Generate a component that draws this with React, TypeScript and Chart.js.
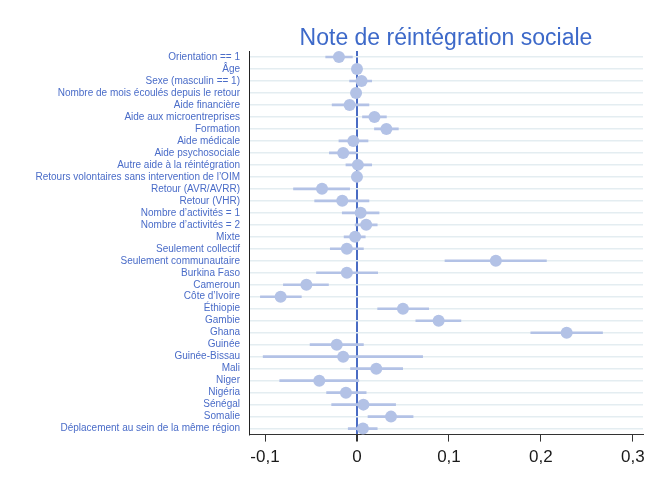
import React, { useEffect, useRef } from "react";
import { Chart, registerables } from "chart.js";

Chart.register(...registerables);

const categories: string[] = [
  "Orientation == 1",
  "Âge",
  "Sexe (masculin == 1)",
  "Nombre de mois écoulés depuis le retour",
  "Aide financière",
  "Aide aux microentreprises",
  "Formation",
  "Aide médicale",
  "Aide psychosociale",
  "Autre aide à la réintégration",
  "Retours volontaires sans intervention de l’OIM",
  "Retour (AVR/AVRR)",
  "Retour (VHR)",
  "Nombre d’activités = 1",
  "Nombre d’activités = 2",
  "Mixte",
  "Seulement collectif",
  "Seulement communautaire",
  "Burkina Faso",
  "Cameroun",
  "Côte d’Ivoire",
  "Éthiopie",
  "Gambie",
  "Ghana",
  "Guinée",
  "Guinée-Bissau",
  "Mali",
  "Niger",
  "Nigéria",
  "Sénégal",
  "Somalie",
  "Déplacement au sein de la même région",
];

const estimates: number[] = [
  -0.0196, 0.0, 0.005, -0.001, -0.008, 0.019, 0.032, -0.004, -0.015, 0.001,
  0.0, -0.038, -0.016, 0.004, 0.01, -0.002, -0.011, 0.151, -0.011, -0.055,
  -0.083, 0.05, 0.0888, 0.228, -0.022, -0.015, 0.021, -0.041, -0.012, 0.007,
  0.037, 0.0065,
];

const lowerCI: number[] = [
  -0.034, -0.001, -0.008, -0.002, -0.027, 0.006, 0.019, -0.0196, -0.03, -0.012,
  -0.001, -0.069, -0.046, -0.016, -0.002, -0.014, -0.029, 0.0957, -0.044, -0.08,
  -0.105, 0.0225, 0.064, 0.189, -0.051, -0.102, -0.007, -0.084, -0.033, -0.0275,
  0.012, -0.0095,
];

const upperCI: number[] = [
  -0.005, 0.001, 0.016, 0.0, 0.013, 0.032, 0.045, 0.012, 0.0, 0.016,
  0.001, -0.008, 0.013, 0.024, 0.022, 0.009, 0.007, 0.206, 0.0225, -0.031,
  -0.0605, 0.078, 0.113, 0.267, 0.007, 0.0714, 0.0497, 0.002, 0.01, 0.042,
  0.061, 0.022,
];

const xTicks: number[] = [-0.1, 0, 0.1, 0.2, 0.3];
const chartTitle = "Note de réintégration sociale";

const markColor = "#b3c2e6";
const labelColor = "#4a6cc8";

export default function App() {
  const canvasRef = useRef<HTMLCanvasElement | null>(null);

  useEffect(() => {
    document.body.style.margin = "0";
    const canvas = canvasRef.current;
    if (!canvas) return;

    const titlePlugin = {
      id: "centeredTitle",
      afterDraw(chart: any) {
        const { ctx, chartArea } = chart;
        ctx.save();
        ctx.font = "23px 'Liberation Sans', Arial, sans-serif";
        ctx.fillStyle = "#3d69c9";
        ctx.textAlign = "center";
        ctx.textBaseline = "alphabetic";
        ctx.fillText(chartTitle, (chartArea.left + chartArea.right) / 2, 45);
        ctx.restore();
      },
    };

    const chart = new Chart(canvas, {
      type: "bar",
      data: {
        labels: categories,
        datasets: [
          {
            type: "bar",
            label: "IC",
            data: categories.map((_, i) => [lowerCI[i], upperCI[i]]) as any,
            backgroundColor: markColor,
            borderWidth: 0,
            barThickness: 2,
            order: 2,
          } as any,
          {
            type: "line",
            label: "Estimation",
            data: estimates as any,
            showLine: false,
            pointRadius: 6,
            pointHoverRadius: 6,
            pointBackgroundColor: markColor,
            pointBorderColor: markColor,
            pointBorderWidth: 0,
            order: 1,
          } as any,
        ],
      },
      options: {
        indexAxis: "y",
        animation: false,
        responsive: false,
        maintainAspectRatio: false,
        layout: { padding: { top: 51, right: 11, left: 0, bottom: 6 } },
        plugins: {
          legend: { display: false },
          tooltip: { enabled: false },
          title: { display: false },
        },
        scales: {
          x: {
            type: "linear",
            min: -0.1174,
            max: 0.311,
            afterBuildTicks(scale: any) {
              scale.ticks = xTicks.map((v) => ({ value: v }));
            },
            ticks: {
              font: { size: 17, family: "'Liberation Sans', Arial, sans-serif" },
              color: "#1a1a1a",
              padding: 6,
              callback: (v: any) => {
                const n = Number(v);
                if (Math.abs(n) < 1e-9) return "0";
                return n.toFixed(1).replace(".", ",");
              },
            },
            grid: {
              drawOnChartArea: true,
              drawTicks: true,
              tickLength: 7,
              tickColor: "#333",
              color: (ctx: any) =>
                ctx.tick && Math.abs(ctx.tick.value) < 1e-9 ? "#4a6cc4" : "rgba(0,0,0,0)",
              lineWidth: (ctx: any) =>
                ctx.tick && Math.abs(ctx.tick.value) < 1e-9 ? 2 : 1,
            },
            border: { display: true, color: "#333", width: 1 },
          },
          y: {
            type: "category",
            offset: true,
            afterFit(scale: any) {
              scale.width = 249;
            },
            ticks: {
              font: { size: 10, family: "'Liberation Sans', Arial, sans-serif" },
              color: labelColor,
              padding: 9,
              autoSkip: false,
            },
            grid: {
              offset: false,
              drawTicks: false,
              tickLength: 0,
              color: "#e4edf1",
              lineWidth: 1.5,
            },
            border: { display: true, color: "#222", width: 1 },
          },
        },
      } as any,
      plugins: [titlePlugin],
    });

    return () => chart.destroy();
  }, []);

  return (
    <div style={{ width: 654, height: 480, background: "#fff" }}>
      <canvas ref={canvasRef} width={654} height={480} style={{ display: "block" }} />
    </div>
  );
}
